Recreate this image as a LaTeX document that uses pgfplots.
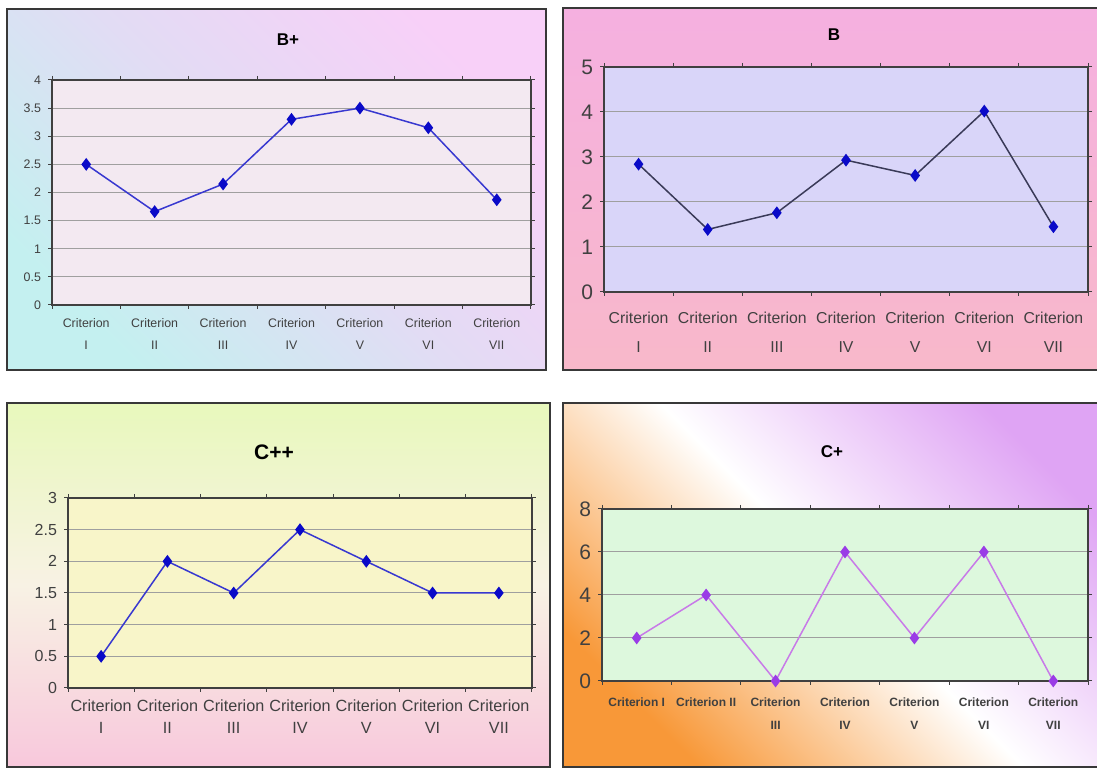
\documentclass[border=0pt]{standalone}
\usepackage{fontspec}
\setmainfont{Liberation Sans}
\usepackage{pgfplots}
\pgfplotsset{compat=1.18}

\definecolor{pOneA}{HTML}{C4F0F0}
\definecolor{pOneM}{HTML}{E2DCF4}
\definecolor{pOneB}{HTML}{F8D0F8}
\definecolor{pTwoA}{HTML}{F5B0E0}
\definecolor{pTwoB}{HTML}{F8B8CA}
\definecolor{pThrA}{HTML}{E8F8BC}
\definecolor{pThrM}{HTML}{F8F2E4}
\definecolor{pThrB}{HTML}{F8C8DC}
\definecolor{pFouA}{HTML}{F89838}
\definecolor{pFouB}{HTML}{DFA4F4}
\definecolor{bgOne}{HTML}{F3E9F1}
\definecolor{bgTwo}{HTML}{D9D5F9}
\definecolor{bgThr}{HTML}{F8F5C9}
\definecolor{bgFou}{HTML}{DDF8DD}
\definecolor{lineBlue}{HTML}{3838D0}
\definecolor{markBlue}{HTML}{0A0AC8}
\definecolor{lineDark}{HTML}{3A3A58}
\definecolor{lineViolet}{HTML}{C87AE8}
\definecolor{markViolet}{HTML}{9A3CE6}
\definecolor{frameCol}{HTML}{383838}
\definecolor{txtCol}{HTML}{404040}

\pgfplotsset{
  panel/.style={
    scale only axis, anchor=south west, clip=false,
    xmin=0.5, xmax=7.5,
    xtick={0.5,1.5,...,7.5}, xticklabels={{},{},{},{},{},{},{},{}},
    extra x ticks={1,2,3,4,5,6,7},
    extra x tick style={major tick length=0pt, grid=none},
    tick align=outside, major tick length=2pt,
    tick style={color=txtCol, line width=0.5pt},
    ymajorgrids, grid style={color=gray!75, line width=0.5pt},
    axis line style={color=txtCol, line width=0.7pt},
    /pgf/number format/assume math mode=true,
    xticklabel style={align=center, text=txtCol},
    yticklabel style={text=txtCol},
  },
  ser/.style={line width=0.75pt, mark=diamond*, mark size=2.6pt},
}

\begin{document}
\begin{tikzpicture}
\useasboundingbox (0,0) rectangle (548.5pt,384.5pt);
\clip (0,0) rectangle (548.5pt,384.5pt);
\fill[white] (0,0) rectangle (548.5pt,384.5pt);

% panel backgrounds
\shade[top color=pOneB, bottom color=pOneA, middle color=pOneM, shading angle=-45]
  (3.5pt,199.5pt) rectangle (273pt,380pt);
\draw[frameCol, line width=1.1pt] (3.5pt,199.5pt) rectangle (273pt,380pt);

\shade[top color=pTwoA, bottom color=pTwoB]
  (281.5pt,199.5pt) rectangle (560pt,380.5pt);
\draw[frameCol, line width=1.1pt] (281.5pt,199.5pt) rectangle (560pt,380.5pt);

\shade[top color=pThrA, bottom color=pThrB, middle color=pThrM]
  (3.5pt,1pt) rectangle (275pt,183pt);
\draw[frameCol, line width=1.1pt] (3.5pt,1pt) rectangle (275pt,183pt);

\shade[top color=pFouB, bottom color=pFouA, middle color=white, shading angle=-45]
  (281.5pt,1pt) rectangle (560pt,183pt);
\draw[frameCol, line width=1.1pt] (281.5pt,1pt) rectangle (560pt,183pt);

% ---------- B+ ----------
\begin{axis}[panel, at={(26pt,232pt)}, width=239.5pt, height=112.5pt,
  ymin=0, ymax=4, ytick={0,0.5,...,4},
  axis background/.style={fill=bgOne},
  yticklabel style={font=\fontsize{6.2}{7}\selectfont},
  xticklabel style={font=\fontsize{6.2}{11}\selectfont, yshift=-3pt},
  extra x tick labels={{Criterion\\I},{Criterion\\II},{Criterion\\III},{Criterion\\IV},{Criterion\\V},{Criterion\\VI},{Criterion\\VII}},
]
\addplot[ser, color=lineBlue, mark options={fill=markBlue, draw=markBlue}] coordinates {
(1,2.5) (2,1.66) (3,2.15) (4,3.3) (5,3.5) (6,3.15) (7,1.87)};
\end{axis}

% ---------- B ----------
\begin{axis}[panel, at={(302pt,238.5pt)}, width=242pt, height=112.5pt,
  ymin=0, ymax=5, ytick={0,1,...,5},
  axis background/.style={fill=bgTwo},
  yticklabel style={font=\fontsize{10.5}{12}\selectfont},
  xticklabel style={font=\fontsize{7.9}{14.5}\selectfont, yshift=-6.5pt},
  extra x tick labels={{Criterion\\I},{Criterion\\II},{Criterion\\III},{Criterion\\IV},{Criterion\\V},{Criterion\\VI},{Criterion\\VII}},
]
\addplot[ser, color=lineDark, mark options={fill=markBlue, draw=markBlue}] coordinates {
(1,2.84) (2,1.39) (3,1.76) (4,2.93) (5,2.59) (6,4.02) (7,1.45)};
\end{axis}

% ---------- C++ ----------
\begin{axis}[panel, at={(34pt,40.5pt)}, width=232pt, height=95pt,
  ymin=0, ymax=3, ytick={0,0.5,...,3},
  axis background/.style={fill=bgThr},
  yticklabel style={font=\fontsize{8}{9}\selectfont},
  xticklabel style={font=\fontsize{8.1}{11}\selectfont, yshift=-2.5pt},
  extra x tick labels={{Criterion\\I},{Criterion\\II},{Criterion\\III},{Criterion\\IV},{Criterion\\V},{Criterion\\VI},{Criterion\\VII}},
]
\addplot[ser, color=lineBlue, mark options={fill=markBlue, draw=markBlue}] coordinates {
(1,0.5) (2,2) (3,1.5) (4,2.5) (5,2) (6,1.5) (7,1.5)};
\end{axis}

% ---------- C+ ----------
\begin{axis}[panel, at={(301pt,44pt)}, width=243pt, height=86pt,
  ymin=0, ymax=8, ytick={0,2,...,8},
  axis background/.style={fill=bgFou},
  yticklabel style={font=\fontsize{10.5}{12}\selectfont},
  xticklabel style={font=\bfseries\fontsize{6}{11.5}\selectfont, yshift=-5pt},
  extra x tick labels={{Criterion I},{Criterion II},{Criterion\\III},{Criterion\\IV},{Criterion\\V},{Criterion\\VI},{Criterion\\VII}},
]
\addplot[ser, color=lineViolet, mark options={fill=markViolet, draw=markViolet}] coordinates {
(1,2) (2,4) (3,0) (4,6) (5,2) (6,6) (7,0)};
\end{axis}

% titles
\node[font=\bfseries\fontsize{8.5}{10}\selectfont] at (144pt,364.5pt) {B+};
\node[font=\bfseries\fontsize{8.5}{10}\selectfont] at (417pt,367pt) {B};
\node[font=\bfseries\fontsize{10.5}{12}\selectfont] at (137pt,158.5pt) {C++};
\node[font=\bfseries\fontsize{8.5}{10}\selectfont] at (416pt,158.5pt) {C+};
\end{tikzpicture}
\end{document}
